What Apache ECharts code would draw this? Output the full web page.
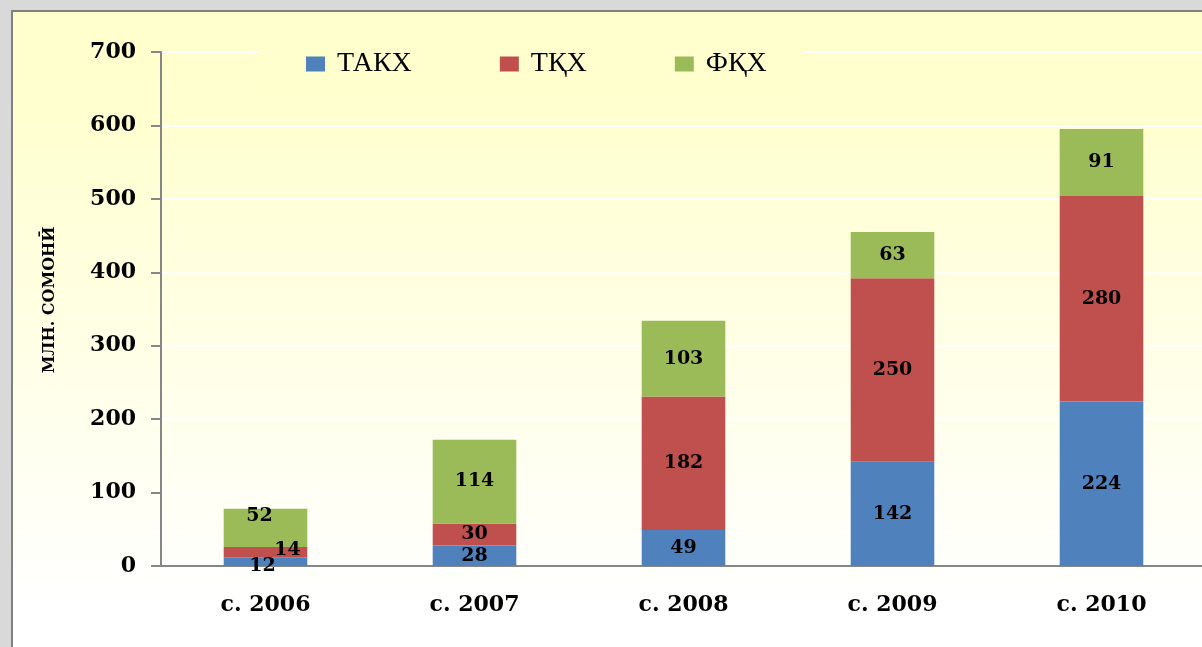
<!DOCTYPE html>
<html>
<head>
<meta charset="utf-8">
<script src="https://cdn.jsdelivr.net/npm/echarts@6/dist/echarts.min.js"></script>
<style>
    html, body { margin: 0; padding: 0; width: 1202px; height: 647px; overflow: hidden; background: #d9d9d9; }
    #chart { position: absolute; left: 11px; top: 10px; width: 1200px; height: 650px;
             border-left: 2px solid #808080; border-top: 2px solid #808080; }
</style>
</head>
<body>
<div id="chart"></div>
<script>
    // данные
    var years = ['с. 2006', 'с. 2007', 'с. 2008', 'с. 2009', 'с. 2010'];
    var seriesNames = ['ТАКХ', 'ТҚХ', 'ФҚХ'];
    var takh = [12, 28, 49, 142, 224];
    var tqh = [14, 30, 182, 250, 280];
    var fqh = [52, 114, 103, 63, 91];
    var yTicks = [0, 100, 200, 300, 400, 500, 600, 700];

    var colors = ['#4f81bd', '#c0504d', '#9bbb59'];
    var serif = 'DejaVu Serif';

    var chart = echarts.init(document.getElementById('chart'));

    function makeSeries(name, values, color) {
        return {
            name: name,
            type: 'bar',
            stack: 'total',
            barWidth: '40%',
            itemStyle: {color: color},
            label: {
                show: true,
                position: 'inside',
                color: '#000',
                fontFamily: serif,
                fontWeight: 'bold',
                fontSize: 19
            },
            data: values.slice()
        };
    }

    var series = [
        makeSeries(seriesNames[0], takh, colors[0]),
        makeSeries(seriesNames[1], tqh, colors[1]),
        makeSeries(seriesNames[2], fqh, colors[2])
    ];
    // подписи маленьких сегментов 2006 года сдвинуты как на картинке
    series[0].data[0] = {value: takh[0], label: {offset: [-3, 4]}};
    series[1].data[0] = {value: tqh[0], label: {offset: [22, -2]}};
    series[2].data[0] = {value: fqh[0], label: {offset: [-6, -12]}};

    chart.setOption({
        animation: false,
        backgroundColor: {
            type: 'linear', x: 0, y: 0, x2: 0, y2: 1,
            colorStops: [{offset: 0, color: '#ffffcc'}, {offset: 0.15, color: '#ffffcf'}, {offset: 0.92, color: '#ffffff'}]
        },
        legend: {
            left: 247,
            top: 24,
            padding: [14, 37, 14, 46],
            backgroundColor: '#ffffcd',
            itemWidth: 19,
            itemHeight: 15,
            itemGap: 88,
            icon: 'rect',
            data: seriesNames,
            textStyle: {
                fontFamily: 'Liberation Serif',
                fontSize: 28,
                color: '#000',
                padding: [0, 0, 0, 7]
            }
        },
        grid: {left: 148, top: 40, right: 7, bottom: 96},
        xAxis: {
            type: 'category',
            data: years,
            axisLine: {lineStyle: {color: '#868686', width: 2}},
            axisTick: {length: 7, lineStyle: {color: '#868686', width: 2}},
            axisLabel: {
                margin: 28,
                color: '#000',
                fontFamily: serif,
                fontWeight: 'bold',
                fontSize: 22
            }
        },
        yAxis: {
            type: 'value',
            min: yTicks[0],
            max: yTicks[yTicks.length - 1],
            interval: yTicks[1] - yTicks[0],
            name: 'МЛН. СОМОНӢ',
            nameLocation: 'middle',
            nameRotate: 90,
            nameGap: 103,
            nameTextStyle: {color: '#000', fontFamily: serif, fontWeight: 'bold', fontSize: 16, padding: [0, 0, 0, 18]},
            axisLine: {show: true, lineStyle: {color: '#868686', width: 2}},
            axisTick: {show: true, length: 10, lineStyle: {color: '#868686', width: 2}},
            axisLabel: {
                margin: 25,
                color: '#000',
                fontFamily: serif,
                fontWeight: 'bold',
                fontSize: 22
            },
            splitLine: {lineStyle: {color: '#ffffff', width: 2}}
        },
        series: series
    });
</script>
</body>
</html>
